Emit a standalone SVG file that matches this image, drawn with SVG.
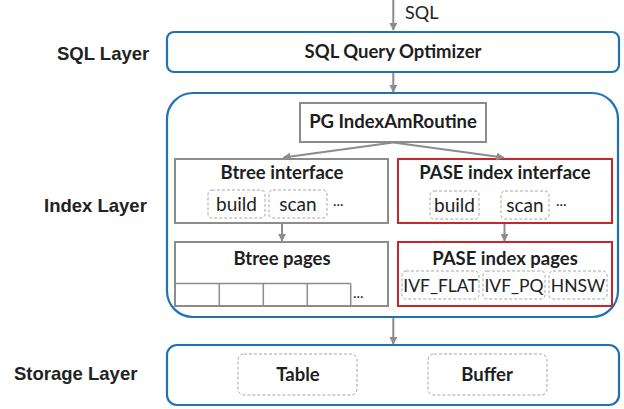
<svg xmlns="http://www.w3.org/2000/svg" width="624" height="409" viewBox="0 0 624 409">
<defs>
<marker id="ah" viewBox="0 0 10 10" refX="9" refY="5" markerWidth="4" markerHeight="4" orient="auto-start-reverse" markerUnits="strokeWidth">
<path d="M0,0 L10,5 L0,10 z" fill="#8c8c8c"/>
</marker>
<style>
.layer{fill:#fff;stroke:#1f72b8;stroke-width:2.2}
.gbox{fill:#fff;stroke:#8c8c8c;stroke-width:2}
.rbox{fill:#fff;stroke:#c8262d;stroke-width:2}
.dash{fill:#fff;stroke:#a6a6a6;stroke-width:1;stroke-dasharray:3 2}
.cell{fill:none;stroke:#8c8c8c;stroke-width:1.5}
.conn{stroke:#8c8c8c;stroke-width:2;fill:none;marker-end:url(#ah)}
.lbl{font-family:"Liberation Sans",Arial,sans-serif;font-weight:bold;font-size:18.5px;fill:#222}
.t{font-family:Lato,"Open Sans",sans-serif;font-weight:bold;font-size:18.5px;fill:#1e1e1e;text-anchor:middle}
.n{font-family:Lato,"Open Sans",sans-serif;font-size:19px;fill:#222;text-anchor:middle}
.v{font-family:Lato,"Open Sans",sans-serif;font-size:17.5px;fill:#222;text-anchor:middle}
.s{font-family:Lato,"Open Sans",sans-serif;font-size:15px;fill:#222}
</style>
</defs>

<g id="labels">
<text class="lbl" x="57" y="60">SQL Layer</text>
<text class="lbl" x="44" y="212">Index Layer</text>
<text class="lbl" x="14" y="380">Storage Layer</text>
</g>

<g id="sql-layer">
<rect class="layer" x="167" y="32" width="452" height="40" rx="7"/>
<text class="t" x="393" y="58">SQL Query Optimizer</text>
</g>

<g id="index-layer">
<rect class="layer" x="167" y="93" width="451" height="224" rx="26"/>
</g>

<g id="pg-indexamroutine">
<rect class="gbox" x="300" y="103" width="186" height="39"/>
<text class="t" x="393" y="128">PG IndexAmRoutine</text>
</g>

<g id="btree-interface">
<rect class="gbox" x="175" y="159" width="213" height="64"/>
<text class="t" x="282" y="179">Btree interface</text>
<rect class="dash" x="208" y="190" width="57" height="28" rx="4"/>
<text class="n" x="236.5" y="211">build</text>
<rect class="dash" x="269" y="190" width="58" height="28" rx="4"/>
<text class="n" x="298" y="211">scan</text>
<text class="s" x="333" y="206">...</text>
</g>

<g id="pase-index-interface">
<rect class="rbox" x="398" y="159" width="214" height="64"/>
<text class="t" x="505" y="179">PASE index interface</text>
<rect class="dash" x="430" y="191" width="49" height="28" rx="4"/>
<text class="n" x="454.5" y="212">build</text>
<rect class="dash" x="501" y="191" width="48" height="28" rx="4"/>
<text class="n" x="525" y="212">scan</text>
<text class="s" x="556" y="206">...</text>
</g>

<g id="btree-pages">
<rect class="gbox" x="175" y="242" width="213" height="64"/>
<text class="t" x="282" y="265">Btree pages</text>
<path class="cell" d="M176,283.5 H350.7 M219.3,283.5 V305 M263.3,283.5 V305 M307.3,283.5 V305 M350.7,283.5 V305"/>
<text class="s" x="353" y="298">...</text>
</g>

<g id="pase-index-pages">
<rect class="rbox" x="398" y="242" width="214" height="64"/>
<text class="t" x="505" y="265">PASE index pages</text>
<rect class="dash" x="402" y="271" width="77" height="28" rx="4"/>
<text class="v" x="440.5" y="291.5">IVF_FLAT</text>
<rect class="dash" x="483" y="271" width="62" height="28" rx="4"/>
<text class="v" x="514" y="291.5">IVF_PQ</text>
<rect class="dash" x="549" y="271" width="58" height="28" rx="4"/>
<text class="v" x="578" y="291.5">HNSW</text>
</g>

<g id="storage-layer">
<rect class="layer" x="167" y="345" width="452" height="60" rx="10"/>
<rect class="dash" x="238" y="354" width="119" height="41" rx="6"/>
<text class="t" x="298" y="381">Table</text>
<rect class="dash" x="428" y="354" width="119" height="41" rx="6"/>
<text class="t" x="487" y="381">Buffer</text>
</g>

<g id="connectors">
<line class="conn" x1="393.3" y1="0" x2="393.3" y2="30"/>
<text class="n" x="405" y="19" style="text-anchor:start;font-size:18px">SQL</text>
<line class="conn" x1="393.3" y1="73" x2="393.3" y2="92"/>
<line class="conn" x1="393.3" y1="142.5" x2="283.5" y2="157.5"/>
<line class="conn" x1="393.3" y1="142.5" x2="503.5" y2="157.5"/>
<line class="conn" x1="282" y1="224" x2="282" y2="241"/>
<line class="conn" x1="504.5" y1="224" x2="504.5" y2="241"/>
<line class="conn" x1="393.3" y1="318" x2="393.3" y2="344"/>
</g>
</svg>
